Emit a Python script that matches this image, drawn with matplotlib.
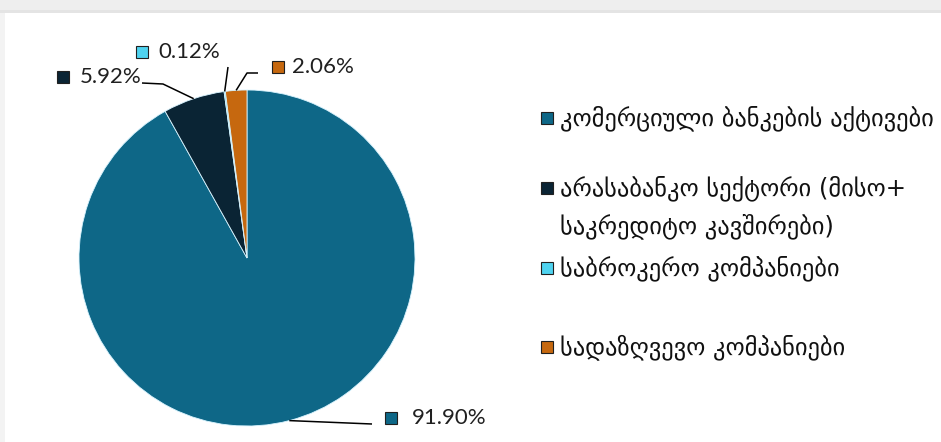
import matplotlib
matplotlib.use("Agg")
import matplotlib.pyplot as plt
from matplotlib.patches import Rectangle
import numpy as np

categories = ["კომერციული ბანკების აქტივები",
              "არასაბანკო სექტორი (მისო+\nსაკრედიტო კავშირები)",
              "საბროკერო კომპანიები",
              "სადაზღვევო კომპანიები"]
values = [91.90, 5.92, 0.12, 2.06]
value_labels = ["91.90%", "5.92%", "0.12%", "2.06%"]
colors = ["#0e6787", "#0a2434", "#4fd3f0", "#c6680f"]

W, H = 941, 442
fig = plt.figure(figsize=(W / 100, H / 100), dpi=100)
fig.patch.set_facecolor("white")

# frame decorations (top gray band, left edge)
fig.add_artist(Rectangle((0, 1 - 10 / H), 1, 10 / H, transform=fig.transFigure,
                         facecolor="#eeeeee", edgecolor="none"))
fig.add_artist(Rectangle((0, 1 - 13 / H), 1, 3 / H, transform=fig.transFigure,
                         facecolor="#e4e4e4", edgecolor="none"))
fig.add_artist(Rectangle((0, 0), 5 / W, 1 - 13 / H, transform=fig.transFigure,
                         facecolor="#f3f3f3", edgecolor="none"))

ax = fig.add_axes([0, 0, 1, 1])
cx, cy, R = 247, H - 258, 168
wedges, _ = ax.pie(values, colors=colors, startangle=90, counterclock=False,
                   center=(cx, cy), radius=R, frame=True,
                   wedgeprops=dict(edgecolor="#d8f4ff", linewidth=0.6))
ax.set_xlim(0, W)
ax.set_ylim(0, H)
ax.set_aspect("equal")
ax.axis("off")

# data labels with leader lines (pixel layout, y flipped)
label_pos = [(412, 418), (80, 77), (158, 52), (292, 67)]
marker_pos = [(391, 418), (63, 77), (142, 52), (278, 67)]
elbows = [[(372, 424)], [(163, 84), (142, 83)], [(228, 67)], [(247, 73), (258, 73)]]
for w, lab, lp, mp, el, col in zip(wedges, value_labels, label_pos, marker_pos, elbows, colors):
    ang = np.deg2rad((w.theta1 + w.theta2) / 2)
    ax0 = cx + R * np.cos(ang)
    ay0 = cy + R * np.sin(ang)
    xs = [ax0] + [p[0] for p in el]
    ys = [ay0] + [H - p[1] for p in el]
    ax.plot(xs, ys, color="black", lw=1.1, solid_capstyle="butt")
    ax.add_patch(Rectangle((mp[0] - 6, H - mp[1] - 6), 12, 12, facecolor=col,
                           edgecolor="#202020", lw=0.8))
    ax.text(lp[0], H - lp[1], lab, fontsize=16, family="Lato", color="#202020",
            va="center", ha="left")

# legend
leg_y = [118, 188, 268, 347]
line_gap = 38
for cat, col, y in zip(categories, colors, leg_y):
    ax.add_patch(Rectangle((541, H - y - 6), 12, 12, facecolor=col,
                           edgecolor="#202020", lw=0.8))
    for i, line in enumerate(cat.split("\n")):
        ax.text(560, H - y - i * line_gap, line, fontsize=17.6, family="DejaVu Sans",
                color="#111111", va="center", ha="left")

fig.savefig("out.png", dpi=100)
